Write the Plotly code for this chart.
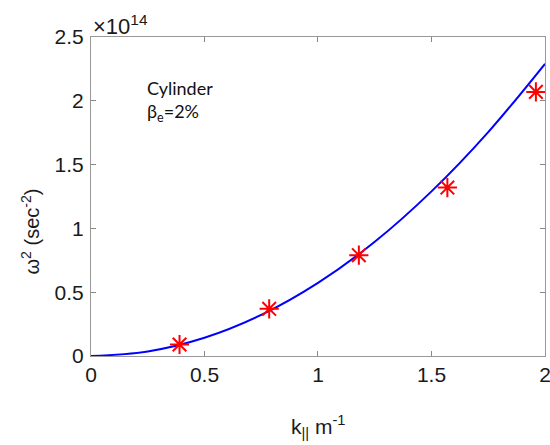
import plotly.graph_objects as go

# data (omega^2 in units of 1e14 sec^-2)
k_points = [0.39, 0.785, 1.18, 1.57, 1.96]
w2_points = [0.09, 0.37, 0.79, 1.32, 2.07]

k_curve = [0.0, 0.25, 0.5, 0.75, 1.0, 1.25, 1.5, 1.75, 2.0]
w2_curve = [0.0, 0.036, 0.143, 0.322, 0.573, 0.895, 1.29, 1.755, 2.29]

x_ticks = [0, 0.5, 1, 1.5, 2]
y_ticks = [0, 0.5, 1, 1.5, 2, 2.5]
x_ticklabels = ["0", "0.5", "1", "1.5", "2"]
y_ticklabels = ["0", "0.5", "1", "1.5", "2", "2.5"]

SANS = "Liberation Sans"

fig = go.Figure()
fig.add_trace(go.Scatter(x=k_curve, y=w2_curve, mode="lines",
                         line=dict(color="#0000ff", width=2, shape="spline"),
                         showlegend=False, cliponaxis=True))
fig.add_trace(go.Scatter(x=k_points, y=w2_points, mode="markers",
                         marker=dict(symbol="asterisk-open", size=16, color="#ff0000",
                                     line=dict(color="#ff0000", width=2)),
                         showlegend=False, cliponaxis=False))

tickfont = dict(family=SANS, size=21, color="#1a1a1a")
fig.update_xaxes(range=[0, 2.0001], tickvals=x_ticks, ticktext=x_ticklabels,
                 ticks="inside", ticklen=5, tickcolor="#888", showline=True,
                 linecolor="#999", linewidth=1, mirror="ticks", showgrid=False,
                 zeroline=False, tickfont=tickfont, ticklabeloverflow="allow",
                 automargin=False)
fig.update_yaxes(range=[0, 2.5001], tickvals=y_ticks, ticktext=y_ticklabels,
                 ticks="inside", ticklen=5, tickcolor="#888", showline=True,
                 linecolor="#999", linewidth=1, mirror="ticks", showgrid=False,
                 zeroline=False, tickfont=tickfont, ticklabelstandoff=2,
                 ticklabeloverflow="allow", automargin=False)

fig.update_layout(
    width=550, height=445,
    margin=dict(l=91, r=5, t=37, b=89, autoexpand=False),
    paper_bgcolor="white", plot_bgcolor="white",
    font=dict(family=SANS),
    annotations=[
        dict(text="×10<sup>14</sup>", xref="paper", yref="paper", x=0.0, y=1.0,
             xanchor="left", yanchor="bottom", showarrow=False, yshift=-4,
             font=dict(family=SANS, size=22, color="#1a1a1a")),
        dict(text="k<sub>||</sub> m<sup>-1</sup>", xref="paper", yref="paper", x=0.5, y=0,
             xanchor="center", yanchor="middle", yshift=-70, showarrow=False,
             font=dict(family=SANS, size=21, color="#1a1a1a")),
        dict(text="ω<sup>2</sup> (sec<sup>-2</sup>)", xref="paper", yref="paper", x=0, y=0.5,
             xanchor="center", yanchor="middle", xshift=-61, yshift=-35, textangle=-90,
             showarrow=False,
             font=dict(family=SANS, size=20, color="#1a1a1a")),
        dict(text="Cylinder<br>β<sub>e</sub>=2%", xref="paper", yref="paper", x=0.12, y=0.88,
             xanchor="left", yanchor="top", align="left", showarrow=False,
             font=dict(family="Lato", size=18, color="#111")),
    ],
)

fig.write_html("out.html")
